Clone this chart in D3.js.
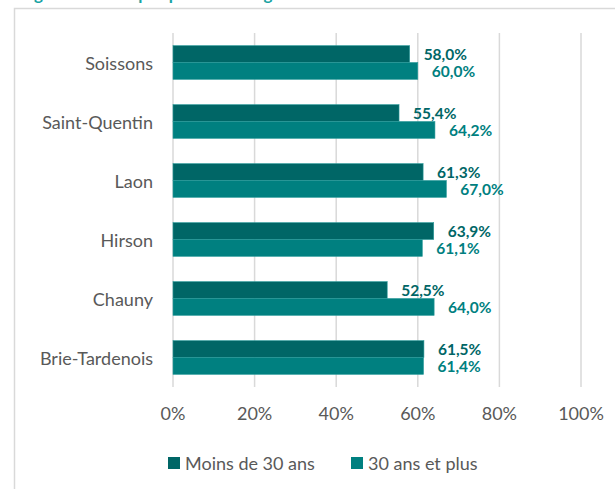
<!DOCTYPE html>
<html>
<head>
<meta charset="utf-8">
<script src="https://cdn.jsdelivr.net/npm/d3@7"></script>
<style>
  body { margin: 0; background: #fff; }
  svg { display: block; font-family: Lato, "Open Sans", sans-serif; }
</style>
</head>
<body>
<div id="chart"></div>
<script>
// données
const communes = ["Soissons", "Saint-Quentin", "Laon", "Hirson", "Chauny", "Brie-Tardenois"];
const moins30 = [58.0, 55.4, 61.3, 63.9, 52.5, 61.5];
const plus30 = [60.0, 64.2, 67.0, 61.1, 64.0, 61.4];
const series = ["Moins de 30 ans", "30 ans et plus"];
const ticks = [0, 20, 40, 60, 80, 100];

const width = 615, height = 489;
const colors = ["#006666", "#008080"];
const margin = { top: 33, right: 34, bottom: 102, left: 173 };

const svg = d3.select("#chart").append("svg")
    .attr("width", width)
    .attr("height", height);

// titre coupé en haut (seul le bas des lettres dépasse)
svg.append("text")
    .attr("x", 16)
    .attr("y", 0)
    .attr("fill", "#1aa3a3")
    .attr("font-size", 17)
    .attr("font-weight", "bold")
    .text("Logements occupés par les ménages");

// cadre
svg.append("rect")
    .attr("x", 14.5)
    .attr("y", 8.5)
    .attr("width", width + 10)
    .attr("height", height + 10)
    .attr("fill", "none")
    .attr("stroke", "#d9d9d9")
    .attr("stroke-width", 1.5);

const x = d3.scaleLinear()
    .domain([0, 100])
    .range([margin.left, width - margin.right]);

const y = d3.scaleBand()
    .domain(communes)
    .range([margin.top, height - margin.bottom]);

const y2 = d3.scaleBand()
    .domain(series)
    .range([0, y.bandwidth()])
    .paddingOuter(0.75)
    .paddingInner(0);

// grille
svg.append("g")
    .selectAll("line")
    .data(ticks)
    .join("line")
    .attr("x1", d => x(d))
    .attr("x2", d => x(d))
    .attr("y1", margin.top)
    .attr("y2", height - margin.bottom)
    .attr("stroke", "#d9d9d9")
    .attr("stroke-width", 1.5);

// axe x
svg.append("g")
    .selectAll("text")
    .data(ticks)
    .join("text")
    .attr("x", d => x(d))
    .attr("y", 420)
    .attr("text-anchor", "middle")
    .attr("fill", "#595959")
    .attr("font-size", 18)
    .text(d => d + "%");

// libellés des communes
svg.append("g")
    .selectAll("text")
    .data(communes)
    .join("text")
    .attr("x", 153)
    .attr("y", d => y(d) + y.bandwidth() / 2 + 1)
    .attr("dy", "0.35em")
    .attr("text-anchor", "end")
    .attr("fill", "#595959")
    .attr("font-size", 18)
    .text(d => d);

const rows = communes.map((c, i) => ({ commune: c, values: [moins30[i], plus30[i]] }));
const fmt = v => d3.format(".1f")(v).replace(".", ",") + "%";

const groups = svg.append("g")
    .selectAll("g")
    .data(rows)
    .join("g")
    .attr("transform", d => `translate(0,${y(d.commune)})`);

groups.selectAll("rect")
    .data(d => d.values.map((v, j) => ({ serie: series[j], v, j })))
    .join("rect")
    .attr("x", x(0))
    .attr("y", d => y2(d.serie))
    .attr("width", d => x(d.v) - x(0))
    .attr("height", y2.bandwidth())
    .attr("fill", d => colors[d.j])
    .attr("stroke", "#2a9a9a")
    .attr("stroke-width", 0.6);

groups.selectAll("text")
    .data(d => d.values.map((v, j) => ({ serie: series[j], v, j })))
    .join("text")
    .attr("x", d => x(d.v) + 14)
    .attr("y", d => y2(d.serie) + y2.bandwidth() / 2 + 1)
    .attr("dy", "0.35em")
    .attr("fill", d => colors[d.j])
    .attr("font-size", 15.5)
    .attr("font-weight", "bold")
    .text(d => fmt(d.v));

// légende
const legendX = [168, 351];
const legend = svg.append("g")
    .selectAll("g")
    .data(series)
    .join("g")
    .attr("transform", (d, i) => `translate(${legendX[i]},457)`);

legend.append("rect")
    .attr("width", 12)
    .attr("height", 12)
    .attr("fill", (d, i) => colors[i]);

legend.append("text")
    .attr("x", 17)
    .attr("y", 7)
    .attr("dy", "0.35em")
    .attr("fill", "#595959")
    .attr("font-size", 18)
    .text(d => d);
</script>
</body>
</html>
